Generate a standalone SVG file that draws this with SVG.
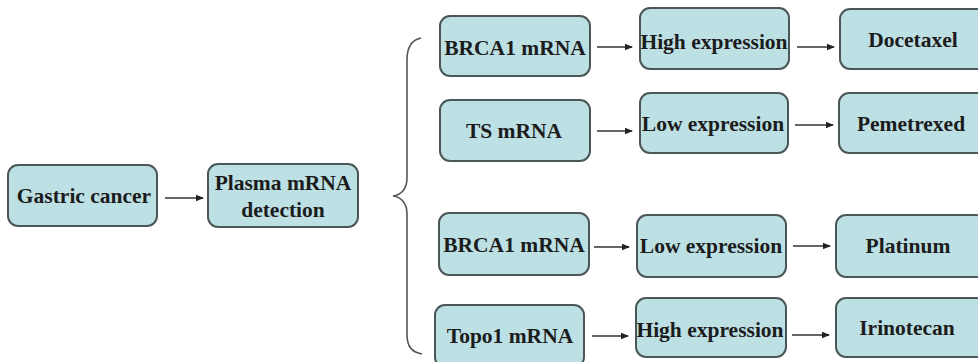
<svg xmlns="http://www.w3.org/2000/svg" width="978" height="362" viewBox="0 0 978 362">
  <style>
    .box { fill: #bde0e4; stroke: #4b5757; stroke-width: 2; }
    .lbl { font-family: "Liberation Serif", "Times New Roman", serif; font-weight: bold; font-size: 21.5px; fill: #1c1c1c; text-anchor: middle; }
    .link { stroke: #333; stroke-width: 1.6; fill: none; marker-end: url(#head); }
    .brace { stroke: #555; stroke-width: 1.6; fill: none; }
  </style>
  <defs>
    <marker id="head" markerWidth="8" markerHeight="8" refX="7" refY="4" orient="auto" markerUnits="userSpaceOnUse">
      <path d="M0,0.8 L8,4 L0,7.2 Z" fill="#222"/>
    </marker>
  </defs>
  <rect width="978" height="362" fill="#ffffff"/>

  <g id="gastric-cancer">
    <rect class="box" x="8" y="165" width="149" height="61" rx="10"/>
    <text class="lbl" x="84" y="203">Gastric cancer</text>
  </g>
  <g id="plasma-mrna">
    <rect class="box" x="208" y="164" width="150" height="63" rx="10"/>
    <text class="lbl" x="283" y="190">Plasma mRNA</text>
    <text class="lbl" x="283" y="217">detection</text>
  </g>

  <g id="brca1-high">
    <rect class="box" x="440" y="16" width="150" height="60" rx="10"/>
    <text class="lbl" x="515" y="55">BRCA1 mRNA</text>
  </g>
  <g id="ts-mrna">
    <rect class="box" x="440" y="100" width="150" height="61" rx="10"/>
    <text class="lbl" x="514" y="138">TS mRNA</text>
  </g>
  <g id="brca1-low">
    <rect class="box" x="439" y="213" width="150" height="62" rx="10"/>
    <text class="lbl" x="514" y="252">BRCA1 mRNA</text>
  </g>
  <g id="topo1-mrna">
    <rect class="box" x="435" y="305" width="149" height="62" rx="10"/>
    <text class="lbl" x="510" y="343">Topo1 mRNA</text>
  </g>

  <g id="high-expression-1">
    <rect class="box" x="640" y="8" width="149" height="61" rx="10"/>
    <text class="lbl" x="714" y="49">High expression</text>
  </g>
  <g id="low-expression-1">
    <rect class="box" x="640" y="93" width="148" height="60" rx="10"/>
    <text class="lbl" x="713" y="131">Low expression</text>
  </g>
  <g id="low-expression-2">
    <rect class="box" x="637" y="215" width="149" height="62" rx="10"/>
    <text class="lbl" x="711" y="253">Low expression</text>
  </g>
  <g id="high-expression-2">
    <rect class="box" x="636" y="298" width="150" height="59" rx="10"/>
    <text class="lbl" x="710" y="337">High expression</text>
  </g>

  <g id="docetaxel">
    <rect class="box" x="840" y="9" width="150" height="60" rx="10"/>
    <text class="lbl" x="913" y="47">Docetaxel</text>
  </g>
  <g id="pemetrexed">
    <rect class="box" x="839" y="93" width="150" height="60" rx="10"/>
    <text class="lbl" x="911" y="131">Pemetrexed</text>
  </g>
  <g id="platinum">
    <rect class="box" x="836" y="215" width="150" height="62" rx="10"/>
    <text class="lbl" x="908" y="253">Platinum</text>
  </g>
  <g id="irinotecan">
    <rect class="box" x="836" y="298" width="150" height="59" rx="10"/>
    <text class="lbl" x="907" y="335">Irinotecan</text>
  </g>

  <g id="connectors">
    <path class="link" d="M165,198 H203"/>
    <path class="link" d="M597,47 H632"/>
    <path class="link" d="M597,131 H632"/>
    <path class="link" d="M594,247 H629"/>
    <path class="link" d="M592,336 H628"/>
    <path class="link" d="M797,47 H834"/>
    <path class="link" d="M795,125 H833"/>
    <path class="link" d="M793,246 H830"/>
    <path class="link" d="M792,335 H829"/>
    <path class="brace" d="M421,38 C411,40 407,48 407,60 L407,178 C407,189 401,195 393,196 C401,197 407,203 407,214 L407,334 C407,346 411,352 422,354"/>
  </g>
</svg>
